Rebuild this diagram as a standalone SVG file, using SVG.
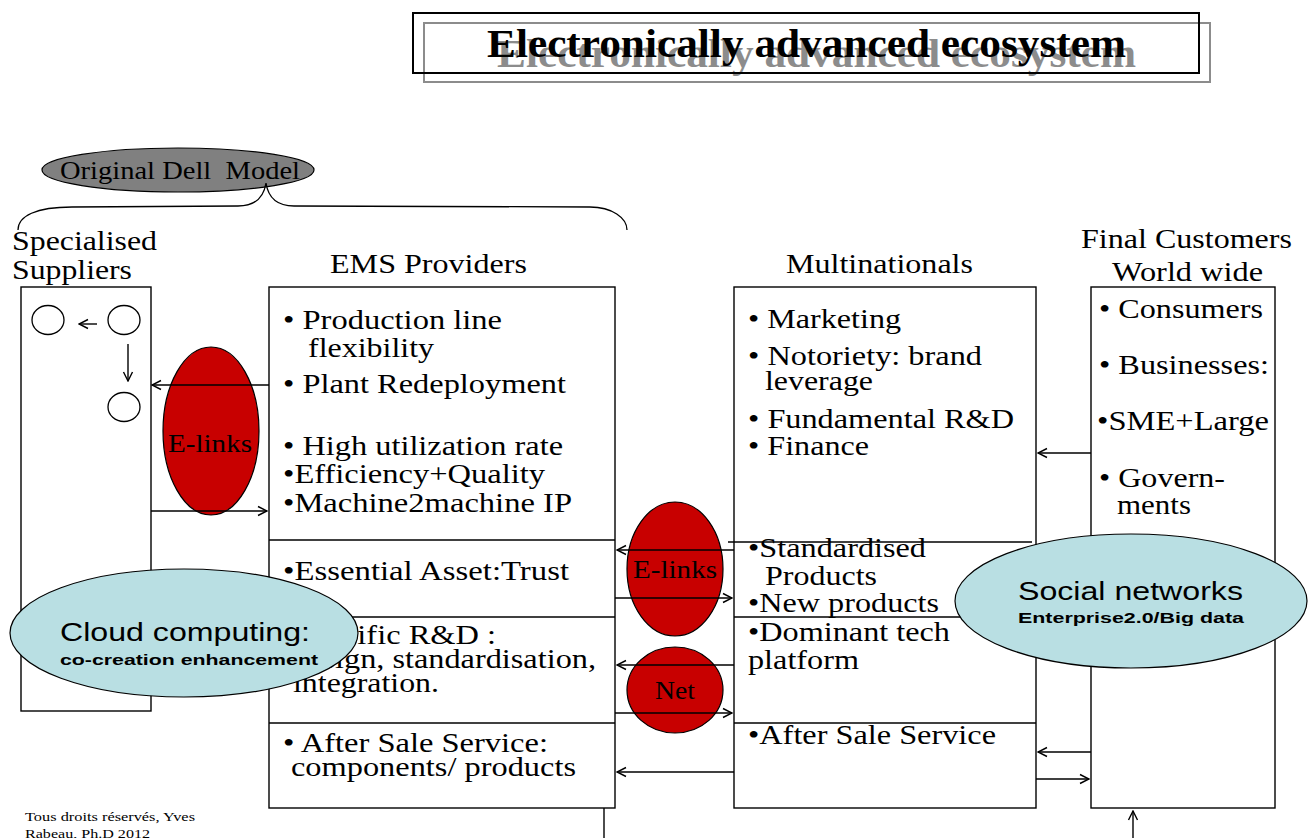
<svg xmlns="http://www.w3.org/2000/svg" width="1312" height="838" viewBox="0 0 1312 838">
  <style>
    .box { fill: #ffffff; stroke: #000000; stroke-width: 1.4; }
    .div { fill: none; stroke: #000000; stroke-width: 1.3; }
    .t { font-family: "Liberation Serif", "Times New Roman", serif; font-size: 27px; fill: #000000; }
    .hd { font-family: "Liberation Serif", "Times New Roman", serif; font-size: 27px; fill: #000000; }
    .lab { font-family: "Liberation Serif", "Times New Roman", serif; font-size: 25px; fill: #000000; }
    .red { fill: #c80000; stroke: #000000; stroke-width: 1.2; }
    .cyan { fill: #b9dfe3; stroke: #000000; stroke-width: 1.2; }
    .sans { font-family: "Liberation Sans", Arial, sans-serif; fill: #000000; }
    .sm { fill: #ffffff; stroke: #000000; stroke-width: 1.3; }
    .arr { fill: none; stroke: #000000; stroke-width: 1.4; marker-end: url(#head); }
    .ln { fill: none; stroke: #000000; stroke-width: 1.4; }
  </style>
  <defs>
    <marker id="head" viewBox="0 0 12 12" refX="11" refY="6" markerWidth="12" markerHeight="12" markerUnits="userSpaceOnUse" orient="auto">
      <path d="M2,1.5 L11,6 L2,10.5" fill="none" stroke="#000000" stroke-width="1.4"/>
    </marker>
  </defs>

  <rect width="1312" height="838" fill="#ffffff"/>

  <!-- title banner with shadow copy -->
  <g id="title">
    <rect x="424" y="23" width="786" height="59" fill="none" stroke="#8c8c8c" stroke-width="2"/>
    <text x="497" y="67" textLength="639" lengthAdjust="spacingAndGlyphs" font-family="Liberation Serif, Times New Roman, serif" font-size="40" font-weight="bold" fill="#8c8c8c">Electronically advanced ecosystem</text>
    <rect x="413" y="13" width="786" height="60" fill="none" stroke="#000000" stroke-width="2"/>
    <text x="487" y="57" textLength="639" lengthAdjust="spacingAndGlyphs" font-family="Liberation Serif, Times New Roman, serif" font-size="40" font-weight="bold" fill="#000000">Electronically advanced ecosystem</text>
  </g>

  <!-- Original Dell Model label and brace -->
  <g id="dell-model">
    <ellipse cx="178" cy="170" rx="136" ry="22" fill="#808080" stroke="#000000" stroke-width="1.2"/>
    <text class="lab" x="60" y="179" textLength="240" lengthAdjust="spacingAndGlyphs" xml:space="preserve">Original Dell  Model</text>
    <path d="M18,230 C18,216 36,207 72,207 L238,206 C256,206 264,196 266,183 C268,196 276,206 294,206 L590,207 C612,207 627,218 627,230" fill="none" stroke="#000000" stroke-width="1.3"/>
  </g>

  <!-- Specialised Suppliers -->
  <g id="suppliers">
    <text class="hd" x="12" y="250" textLength="145" lengthAdjust="spacingAndGlyphs">Specialised</text>
    <text class="hd" x="12" y="279" textLength="120" lengthAdjust="spacingAndGlyphs">Suppliers</text>
    <rect class="box" x="21" y="287" width="130" height="424"/>
    <ellipse class="sm" cx="48" cy="320" rx="16" ry="14.5"/>
    <ellipse class="sm" cx="124" cy="320" rx="16" ry="14.5"/>
    <ellipse class="sm" cx="124" cy="407" rx="16" ry="14.5"/>
  </g>

  <!-- EMS Providers -->
  <g id="ems">
    <text class="hd" x="330" y="273" textLength="197" lengthAdjust="spacingAndGlyphs">EMS Providers</text>
    <rect class="box" x="269" y="287" width="346" height="521"/>
    <line class="div" x1="269" y1="540" x2="615" y2="540"/>
    <line class="div" x1="269" y1="617" x2="615" y2="617"/>
    <line class="div" x1="269" y1="723" x2="615" y2="723"/>
    <text class="t" x="283" y="329" textLength="219" lengthAdjust="spacingAndGlyphs">• Production line</text>
    <text class="t" x="308" y="357" textLength="126" lengthAdjust="spacingAndGlyphs">flexibility</text>
    <text class="t" x="283" y="393" textLength="283" lengthAdjust="spacingAndGlyphs">• Plant Redeployment</text>
    <text class="t" x="283" y="455" textLength="280" lengthAdjust="spacingAndGlyphs">• High utilization rate</text>
    <text class="t" x="283" y="483" textLength="262" lengthAdjust="spacingAndGlyphs">•Efficiency+Quality</text>
    <text class="t" x="283" y="512" textLength="289" lengthAdjust="spacingAndGlyphs">•Machine2machine IP</text>
    <text class="t" x="283" y="580" textLength="286" lengthAdjust="spacingAndGlyphs">•Essential Asset:Trust</text>
    <text class="t" x="283" y="644" textLength="213" lengthAdjust="spacingAndGlyphs">•Specific R&amp;D :</text>
    <text class="t" x="292" y="668" textLength="304" lengthAdjust="spacingAndGlyphs">design, standardisation,</text>
    <text class="t" x="293" y="692" textLength="146" lengthAdjust="spacingAndGlyphs">integration.</text>
    <text class="t" x="283" y="752" textLength="265" lengthAdjust="spacingAndGlyphs">• After Sale Service:</text>
    <text class="t" x="291" y="776" textLength="285" lengthAdjust="spacingAndGlyphs">components/ products</text>
  </g>

  <!-- Multinationals -->
  <g id="multinationals">
    <text class="hd" x="786" y="273" textLength="187" lengthAdjust="spacingAndGlyphs">Multinationals</text>
    <rect class="box" x="734" y="287" width="302" height="521"/>
    <line class="div" x1="728" y1="542" x2="1032" y2="542"/>
    <line class="div" x1="734" y1="617" x2="1036" y2="617"/>
    <line class="div" x1="734" y1="723" x2="1036" y2="723"/>
    <text class="t" x="748" y="328" textLength="153" lengthAdjust="spacingAndGlyphs">• Marketing</text>
    <text class="t" x="748" y="365" textLength="234" lengthAdjust="spacingAndGlyphs">• Notoriety: brand</text>
    <text class="t" x="765" y="390" textLength="108" lengthAdjust="spacingAndGlyphs">leverage</text>
    <text class="t" x="748" y="428" textLength="266" lengthAdjust="spacingAndGlyphs">• Fundamental R&amp;D</text>
    <text class="t" x="748" y="455" textLength="121" lengthAdjust="spacingAndGlyphs">• Finance</text>
    <text class="t" x="748" y="557" textLength="178" lengthAdjust="spacingAndGlyphs">•Standardised</text>
    <text class="t" x="765" y="585" textLength="112" lengthAdjust="spacingAndGlyphs">Products</text>
    <text class="t" x="748" y="612" textLength="191" lengthAdjust="spacingAndGlyphs">•New products</text>
    <text class="t" x="748" y="641" textLength="202" lengthAdjust="spacingAndGlyphs">•Dominant tech</text>
    <text class="t" x="748" y="669" textLength="111" lengthAdjust="spacingAndGlyphs">platform</text>
    <text class="t" x="748" y="744" textLength="248" lengthAdjust="spacingAndGlyphs">•After Sale Service</text>
  </g>

  <!-- Final Customers -->
  <g id="final-customers">
    <text class="hd" x="1081" y="248" textLength="211" lengthAdjust="spacingAndGlyphs">Final Customers</text>
    <text class="hd" x="1112" y="281" textLength="151" lengthAdjust="spacingAndGlyphs">World wide</text>
    <rect class="box" x="1091" y="287" width="184" height="521"/>
    <text class="t" x="1099" y="318" textLength="164" lengthAdjust="spacingAndGlyphs">• Consumers</text>
    <text class="t" x="1099" y="374" textLength="170" lengthAdjust="spacingAndGlyphs">• Businesses:</text>
    <text class="t" x="1097" y="430" textLength="172" lengthAdjust="spacingAndGlyphs">•SME+Large</text>
    <text class="t" x="1099" y="487" textLength="126" lengthAdjust="spacingAndGlyphs">• Govern-</text>
    <text class="t" x="1117" y="514" textLength="74" lengthAdjust="spacingAndGlyphs">ments</text>
  </g>

  <!-- link ellipses -->
  <g id="elinks-suppliers">
    <ellipse class="red" cx="211" cy="431" rx="48" ry="84"/>
    <text class="lab" x="168" y="452" textLength="84" lengthAdjust="spacingAndGlyphs">E-links</text>
  </g>
  <g id="elinks-multinationals">
    <ellipse class="red" cx="675" cy="569" rx="48" ry="67"/>
    <text class="lab" x="633" y="578" textLength="84" lengthAdjust="spacingAndGlyphs">E-links</text>
  </g>
  <g id="net">
    <ellipse class="red" cx="675" cy="690" rx="48" ry="43"/>
    <text class="lab" x="655" y="699" textLength="40" lengthAdjust="spacingAndGlyphs">Net</text>
  </g>

  <!-- connectors -->
  <g id="connectors">
    <line class="arr" x1="97" y1="324" x2="79" y2="324"/>
    <line class="arr" x1="128" y1="344" x2="128" y2="381"/>
    <line class="arr" x1="269" y1="385" x2="152" y2="385"/>
    <line class="arr" x1="151" y1="511" x2="267" y2="511"/>
    <line class="arr" x1="734" y1="550" x2="617" y2="550"/>
    <line class="arr" x1="615" y1="598" x2="732" y2="598"/>
    <line class="arr" x1="734" y1="665" x2="617" y2="665"/>
    <line class="arr" x1="615" y1="713" x2="732" y2="713"/>
    <line class="arr" x1="734" y1="772" x2="617" y2="772"/>
    <line class="arr" x1="1091" y1="453" x2="1038" y2="453"/>
    <line class="arr" x1="1091" y1="752" x2="1038" y2="752"/>
    <line class="arr" x1="1036" y1="779" x2="1089" y2="779"/>
    <line class="arr" x1="1133" y1="838" x2="1133" y2="811"/>
    <line class="ln" x1="604" y1="808" x2="604" y2="838"/>
  </g>

  <!-- overlay clouds -->
  <g id="cloud-computing">
    <ellipse class="cyan" cx="184" cy="633" rx="174" ry="64"/>
    <text class="sans" x="60" y="641" font-size="25" textLength="250" lengthAdjust="spacingAndGlyphs">Cloud computing:</text>
    <text class="sans" x="60" y="665" font-size="15" font-weight="bold" textLength="258" lengthAdjust="spacingAndGlyphs">co-creation enhancement</text>
  </g>
  <g id="social-networks">
    <ellipse class="cyan" cx="1131" cy="601" rx="176" ry="67"/>
    <text class="sans" x="1018" y="600" font-size="25" textLength="225" lengthAdjust="spacingAndGlyphs">Social networks</text>
    <text class="sans" x="1018" y="623" font-size="15" font-weight="bold" textLength="226" lengthAdjust="spacingAndGlyphs">Enterprise2.0/Big data</text>
  </g>

  <!-- footer -->
  <g id="footer">
    <text x="25" y="821" font-family="Liberation Serif, Times New Roman, serif" font-size="13" fill="#000000" textLength="170" lengthAdjust="spacingAndGlyphs">Tous droits réservés, Yves</text>
    <text x="25" y="838" font-family="Liberation Serif, Times New Roman, serif" font-size="13" fill="#000000" textLength="125" lengthAdjust="spacingAndGlyphs">Rabeau, Ph.D 2012</text>
  </g>
</svg>
